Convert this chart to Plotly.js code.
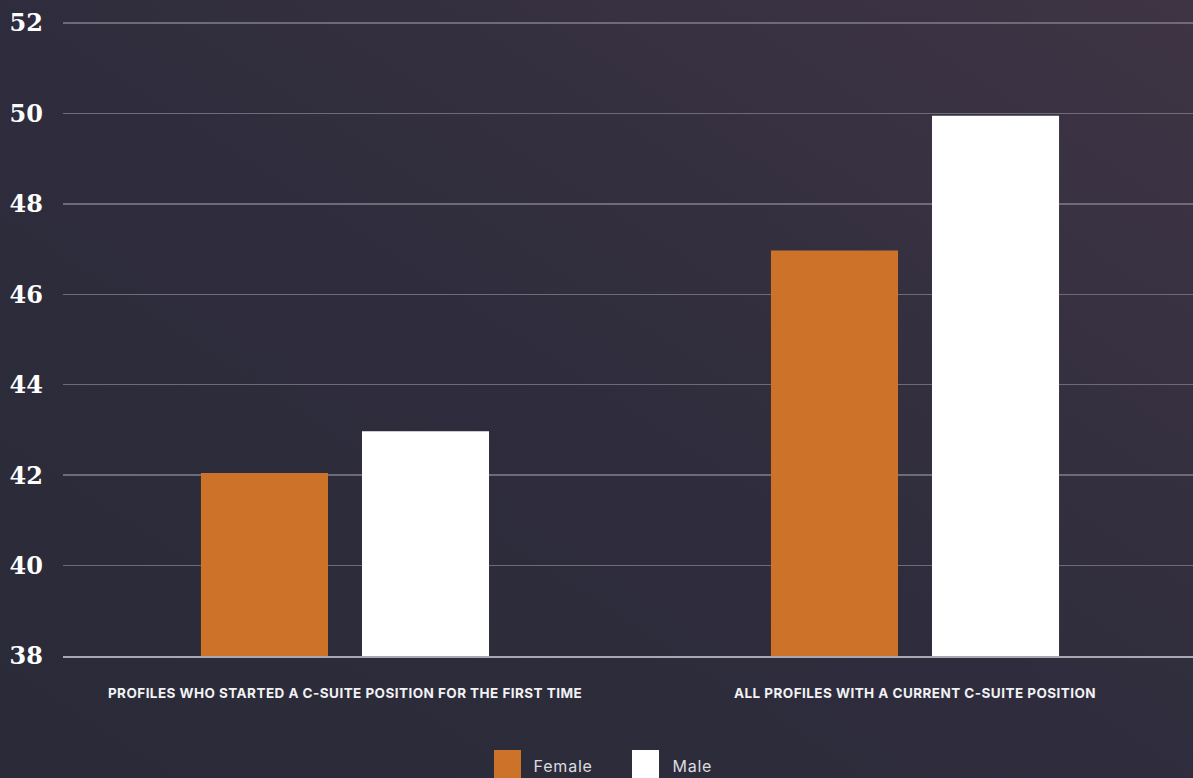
<!DOCTYPE html>
<html>
<head>
<meta charset="utf-8">
<script src="https://cdn.plot.ly/plotly-3.0.1.min.js"></script>
<style>
  html, body { margin:0; padding:0; width:1193px; height:778px; overflow:hidden;
    background: linear-gradient(to top right, #2a2a38 0%, #2f2d3d 50%, #3e3444 100%); }
  #chart { width:1193px; height:778px; }
  #chart .xtick text { letter-spacing: 0.45px; }
  #chart .annotation-text { letter-spacing: 0.8px; }
</style>
</head>
<body>
<div id="chart"></div>
<script>
const categories = ["PROFILES WHO STARTED A C-SUITE POSITION FOR THE FIRST TIME", "ALL PROFILES WITH A CURRENT C-SUITE POSITION"];
const seriesNames = ["Female", "Male"];
const femaleValues = [42.05, 46.97];
const maleValues = [42.97, 49.95];
const yTicks = [38, 40, 42, 44, 46, 48, 50, 52];
const colors = ["#cc7229", "#ffffff"];

const traces = [
  { type: "bar", name: seriesNames[0], x: categories, y: femaleValues, marker: { color: colors[0] }, hoverinfo: "y+name" },
  { type: "bar", name: seriesNames[1], x: categories, y: maleValues, marker: { color: colors[1] }, hoverinfo: "y+name" }
];

// custom legend (large square swatches)
const legendX = [494, 632];
const shapes = [];
const annotations = [];
const plotTop = 20, plotBottom = 656;
const plotH = plotBottom - plotTop;
const py = (pix) => (plotBottom - pix) / plotH;
seriesNames.forEach((n, i) => {
  shapes.push({ type: "rect", xref: "paper", yref: "paper",
    x0: (legendX[i] - 63) / 1130, x1: (legendX[i] + 27 - 63) / 1130,
    y0: py(750), y1: py(780),
    fillcolor: colors[i], line: { width: 0 } });
  annotations.push({ xref: "paper", yref: "paper", x: (legendX[i] + 40 - 63) / 1130, y: py(766),
    xanchor: "left", yanchor: "middle", showarrow: false, text: n,
    font: { family: "Inter, sans-serif", size: 16, color: "#dcdce0" } });
});

const layout = {
  width: 1193, height: 778,
  margin: { l: 63, r: 0, t: plotTop, b: 778 - plotBottom },
  paper_bgcolor: "rgba(0,0,0,0)",
  plot_bgcolor: "rgba(0,0,0,0)",
  barmode: "group",
  bargap: 0.435,
  bargroupgap: 0.211,
  showlegend: false,
  xaxis: {
    range: [-0.4947, 1.4877],
    showgrid: false, zeroline: false,
    showline: true, linecolor: "#a9a8b2", linewidth: 1.5,
    ticks: "", ticklabelstandoff: 24,
    tickfont: { family: "Inter, sans-serif", size: 13.5, color: "#f2f2f4", weight: "bold" }
  },
  yaxis: {
    range: [38, 52.066], tickvals: yTicks, ticktext: yTicks.map(String),
    showgrid: true, gridcolor: "#6d6b78", gridwidth: 1.3,
    zeroline: false, showline: false, ticks: "",
    ticklabelstandoff: 19,
    tickfont: { family: "DejaVu Serif, serif", size: 24, color: "#ffffff", weight: "bold" }
  },
  shapes: shapes,
  annotations: annotations
};

Plotly.newPlot("chart", traces, layout, { displayModeBar: false, staticPlot: true });
</script>
</body>
</html>
